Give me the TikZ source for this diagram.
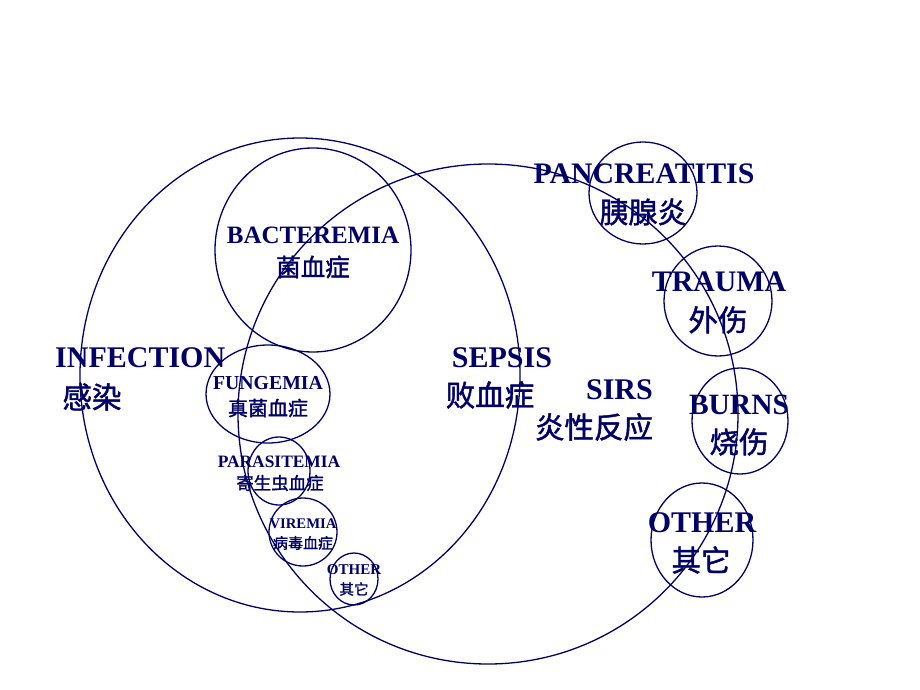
\documentclass[tikz,border=0pt]{standalone}
\usepackage{fontspec}
\setmainfont{Liberation Serif}
\newfontfamily\zhfont[FakeBold=1.5]{Noto Sans CJK SC}
\definecolor{navy}{RGB}{0,0,102}

\begin{document}
\begin{tikzpicture}[x=1pt,y=-1pt,
  ring/.style={draw=navy,line width=1.3pt},
  en/.style={font=\fontsize{#1}{#1}\selectfont\bfseries,text=navy,inner sep=0pt},
  zh/.style={font=\zhfont\fontsize{#1}{#1}\selectfont,text=navy,inner sep=0pt}]
  \useasboundingbox (0,0) rectangle (920,690);

  % infection and sirs
  \draw[ring] (300,375) ellipse [x radius=220pt,y radius=237pt];
  \draw[ring] (488,414) circle [radius=250pt];

  % kinds of infection
  \draw[ring] (313,250) ellipse [x radius=98pt,y radius=102pt];
  \draw[ring] (268,394) ellipse [x radius=62pt,y radius=49pt];
  \draw[ring] (279,471) ellipse [x radius=31pt,y radius=34pt];
  \draw[ring] (303,532) circle [radius=34pt];
  \draw[ring] (354,579) ellipse [x radius=24pt,y radius=26pt];

  % causes of sirs
  \draw[ring] (643,193) ellipse [x radius=54pt,y radius=51pt];
  \draw[ring] (718,301) ellipse [x radius=54pt,y radius=55pt];
  \draw[ring] (740,421) ellipse [x radius=48pt,y radius=53pt];
  \draw[ring] (702,540) ellipse [x radius=51pt,y radius=57pt];

  \node[en=30,anchor=west] (infEn) at (55,358) {INFECTION};
  \node[zh=29.5] (infZh) at (92,397) {感染};
  \node[en=30] (sepEn) at (502,358) {SEPSIS};
  \node[zh=29.5] (sepZh) at (490,395) {败血症};
  \node[en=30,anchor=east] (sirEn) at (653,390) {SIRS};
  \node[zh=29.5] (sirZh) at (594,427) {炎性反应};

  \node[en=25] (bacEn) at (313,235) {BACTEREMIA};
  \node[zh=24.5] (bacZh) at (313,267) {菌血症};
  \node[en=19.8] (funEn) at (268,383) {FUNGEMIA};
  \node[zh=20] (funZh) at (268,408) {真菌血症};
  \node[en=17.4] (parEn) at (279,462) {PARASITEMIA};
  \node[zh=17.5] (parZh) at (280,483) {寄生虫血症};
  \node[en=14.7] (virEn) at (303,524) {VIREMIA};
  \node[zh=15] (virZh) at (303,543) {病毒血症};
  \node[en=15] (othEn) at (354,570) {OTHER};
  \node[zh=14.5] (othZh) at (354,589) {其它};

  \node[en=29.8] (panEn) at (644,174) {PANCREATITIS};
  \node[zh=29] (panZh) at (643,212) {胰腺炎};
  \node[en=29.8] (traEn) at (719,282) {TRAUMA};
  \node[zh=29.5] (traZh) at (718,320) {外伤};
  \node[en=29.5] (burEn) at (739,405) {BURNS};
  \node[zh=29.5] (burZh) at (739,442) {烧伤};
  \node[en=30] (ot2En) at (702,523) {OTHER};
  \node[zh=29.5] (ot2Zh) at (701,560) {其它};
\end{tikzpicture}
\end{document}
